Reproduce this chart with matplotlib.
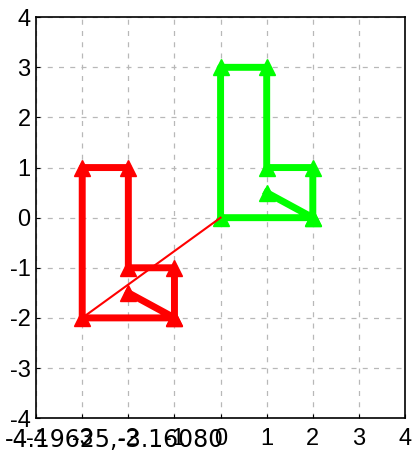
import numpy as np
import matplotlib.pyplot as plt

plt.rcParams['font.family'] = ['Liberation Sans', 'DejaVu Sans']
plt.rcParams['axes.unicode_minus'] = False

# original shape (green) and translation
shape_x = np.array([1, 2, 0, 0, 1, 1, 2, 2])
shape_y = np.array([0.5, 0, 0, 3, 3, 1, 1, 0])
shift = np.array([-3, -2])
cursor_text = "-4.19625,-3.16080"

red_x = shape_x + shift[0]
red_y = shape_y + shift[1]

fig = plt.figure(figsize=(4.15, 4.53), dpi=100)
ax = fig.add_axes([0.087, 0.077, 0.889, 0.885])

ax.plot(shape_x, shape_y, color=(0, 1, 0), lw=5, marker='^', ms=11, zorder=3)
ax.plot(red_x, red_y, color=(1, 0, 0), lw=5, marker='^', ms=11, zorder=3)
ax.plot([shift[0], 0], [shift[1], 0], color=(1, 0, 0), lw=1.5, zorder=4)

ax.set_xlim(-4, 4)
ax.set_ylim(-4, 4)
ax.set_xticks(np.arange(-4, 5))
ax.set_yticks(np.arange(-4, 5))
ax.grid(True, ls=(0, (4, 5)), color='#b8b8b8', lw=0.9)
ax.tick_params(direction='in', length=3, labelsize=17, pad=4)
ax.tick_params(axis='x', pad=7)
for s in ax.spines.values():
    s.set_linewidth(1.2)

fig.text(0.012, 0.029, cursor_text, fontsize=17, family='DejaVu Sans',
         va='center', ha='left')

fig.savefig('out.png', dpi=100)
